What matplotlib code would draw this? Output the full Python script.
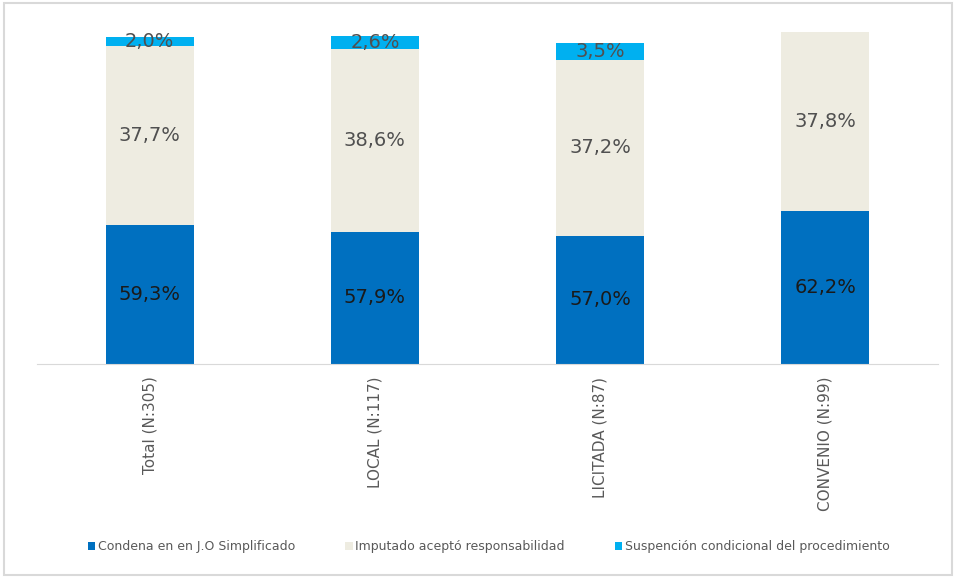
import matplotlib.pyplot as plt
from matplotlib.patches import Rectangle

categories = ["Total (N:305)", "LOCAL (N:117)", "LICITADA (N:87)", "CONVENIO (N:99)"]
condena = [59.3, 57.9, 57.0, 62.2]
imputado = [37.7, 38.6, 37.2, 37.8]
suspencion = [2.0, 2.6, 3.5, 0.0]
series_names = ["Condena en en J.O Simplificado",
                "Imputado aceptó responsabilidad",
                "Suspención condicional del procedimiento"]

C_BLUE, C_BEIGE, C_CYAN = "#0070C0", "#EEECE1", "#00B0F0"
YMIN, YMAX = 30, 100

fig = plt.figure(figsize=(9.56, 5.77), dpi=100)
ax = fig.add_axes([0.0387, 1 - 364 / 577, 0.9425, (364 - 32) / 577])

x = range(len(categories))
w = 0.39
b1 = ax.bar(x, condena, w, color=C_BLUE, label=series_names[0])
b2 = ax.bar(x, imputado, w, bottom=condena, color=C_BEIGE, label=series_names[1])
bottom3 = [a + b for a, b in zip(condena, imputado)]
b3 = ax.bar(x, suspencion, w, bottom=bottom3, color=C_CYAN, label=series_names[2])

def fmt(v):
    return f"{v:.1f}%".replace(".", ",")

for i in x:
    # label centred in the visible part of each segment
    ax.text(i, (YMIN + condena[i]) / 2, fmt(condena[i]), ha="center", va="center",
            fontsize=14, color="#1a1a1a")
    ax.text(i, condena[i] + imputado[i] / 2, fmt(imputado[i]), ha="center",
            va="center", fontsize=14, color="#505050")
    if suspencion[i] > 0:
        ax.text(i, bottom3[i] + suspencion[i] / 2, fmt(suspencion[i]), ha="center",
                va="center", fontsize=14, color="#505050")

ax.set_ylim(YMIN, YMAX)
ax.set_xlim(-0.5, len(categories) - 0.5)
ax.set_yticks([])
ax.set_xticks(list(x))
ax.set_xticklabels(categories, rotation=90, fontsize=11, color="#595959")
ax.tick_params(axis="x", length=0, pad=9)
for s in ("top", "right", "left"):
    ax.spines[s].set_visible(False)
ax.spines["bottom"].set_color("#d9d9d9")
ax.patch.set_alpha(0)

fig.legend(handles=[b1, b2, b3], loc="center", bbox_to_anchor=(0.511, 0.052),
           ncol=3, frameon=False, fontsize=9, labelcolor="#595959",
           handlelength=0.6, handleheight=0.6, handletextpad=0.2,
           columnspacing=4.0)

fig.patches.append(Rectangle((4 / 956, 2 / 577), 948 / 956, 572 / 577,
                             transform=fig.transFigure, fill=False,
                             edgecolor="#d9d9d9", lw=1.5))

fig.savefig("out.png")
